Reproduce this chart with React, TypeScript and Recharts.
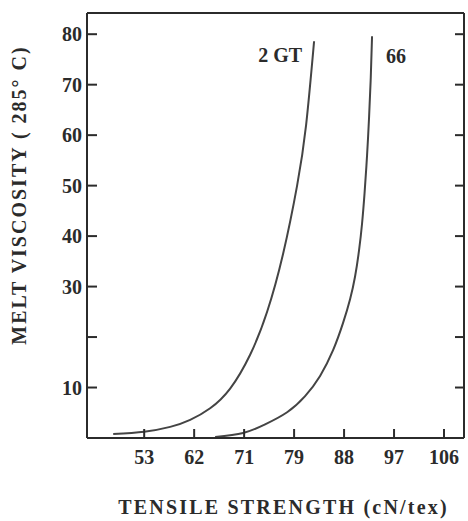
import React from "react"
import { LineChart, Line, XAxis, YAxis, Label, ReferenceLine } from "recharts"

// tensile strength (cN/tex) vs melt viscosity
const gt2X = [47.42, 53.0, 57.68, 61.28, 64.88, 68.48, 72.08, 75.14, 78.02, 80.54, 82.16, 83.6]
const gt2Y = [0.8, 1.25, 2.2, 3.6, 5.9, 9.8, 16.5, 25.0, 36.5, 50.0, 62.0, 78.6]

const n66X = [65.78, 70.82, 74.78, 78.74, 81.98, 84.68, 87.02, 88.82, 90.08, 90.98, 91.7, 92.24, 92.69, 93.14, 93.5, 93.81, 94.04]
const n66Y = [0.2, 1.0, 2.7, 5.1, 8.3, 12.3, 17.4, 22.8, 27.5, 32.0, 37.2, 42.5, 48.5, 56.0, 63.5, 71.5, 79.6]

const xTicks = [53, 62, 71, 80, 89, 98, 107]
const xTickLabels = ["53", "62", "71", "79", "88", "97", "106"]
const yTicks = [10, 20, 30, 40, 50, 60, 70, 80]
const yTickLabels = ["10", "", "30", "40", "50", "60", "70", "80"]

const gt2Data = gt2X.map((x, i) => ({ x, y: gt2Y[i] }))
const n66Data = n66X.map((x, i) => ({ x, y: n66Y[i] }))

const INK = "#2b2b2b"
const FONT = "'Liberation Serif', 'Times New Roman', serif"
const X_DOMAIN: [number, number] = [42.7, 110.6]
const Y_DOMAIN: [number, number] = [0, 84.2]

const W = 468
const H = 521
const MARGIN = { top: 12, right: 3, left: 0, bottom: 0 }
const Y_AXIS_W = 87
const PLOT_W = W - MARGIN.left - MARGIN.right - Y_AXIS_W - 1
// right-side inward tick length (9px) in x units
const RIGHT_TICK_LEN = (9 * (X_DOMAIN[1] - X_DOMAIN[0])) / PLOT_W

const LeftTick = ({ x, y, payload }: any) => {
  const idx = yTicks.indexOf(payload.value)
  return (
    <g>
      <line x1={x} x2={x + 10} y1={y} y2={y} stroke={INK} strokeWidth={2} />
      <text x={x - 5} y={y} textAnchor="end" dominantBaseline="central" fontFamily={FONT} fontWeight="bold" fontSize={20} fill={INK}>
        {yTickLabels[idx]}
      </text>
    </g>
  )
}

const BottomTick = ({ x, y, payload }: any) => {
  const idx = xTicks.indexOf(payload.value)
  return (
    <g>
      <line x1={x} x2={x} y1={y} y2={y - 9} stroke={INK} strokeWidth={2} />
      <text x={x} y={y + 19} textAnchor="middle" dominantBaseline="central" fontFamily={FONT} fontWeight="bold" fontSize={20} fill={INK}>
        {xTickLabels[idx]}
      </text>
    </g>
  )
}

const endLabel = (text: string, last: number, side: "left" | "right") => (p: any) => {
  if (p.index !== last) return null
  const left = side === "left"
  return (
    <text
      x={left ? p.x - 12 : p.x + 14}
      y={left ? p.y + 14 : p.y + 20}
      textAnchor={left ? "end" : "start"}
      dominantBaseline="central"
      fontFamily={FONT}
      fontWeight="bold"
      fontSize={20}
      fill={INK}
    >
      {text}
    </text>
  )
}

export default function App() {
  return (
    <div style={{ position: "absolute", left: 0, top: 0, background: "#fff" }}>
      <LineChart width={W} height={H} margin={MARGIN}>
        <XAxis
          type="number"
          dataKey="x"
          domain={X_DOMAIN}
          ticks={xTicks}
          interval={0}
          height={83}
          tickLine={false}
          tickSize={0}
          tickMargin={0}
          tick={<BottomTick />}
          axisLine={{ stroke: INK, strokeWidth: 2 }}
          allowDataOverflow
        >
          <Label
            content={(props: any) => {
              const vb = props.viewBox
              return (
                <text x={vb.x + vb.width / 2 + 8} y={vb.y + 69} textAnchor="middle" dominantBaseline="central" fontFamily={FONT} fontWeight="bold" fontSize={20} letterSpacing={2.2} fill={INK}>
                  TENSILE STRENGTH (cN/tex)
                </text>
              )
            }}
          />
        </XAxis>
        {/* frame: top and right sides (size 1, a zero-size axis is not drawn) */}
        <XAxis
          xAxisId="top"
          orientation="top"
          type="number"
          dataKey="x"
          domain={X_DOMAIN}
          height={1}
          tick={false}
          tickLine={false}
          axisLine={{ stroke: INK, strokeWidth: 2 }}
          allowDataOverflow
        />
        <YAxis
          type="number"
          domain={Y_DOMAIN}
          ticks={yTicks}
          interval={0}
          width={Y_AXIS_W}
          tickLine={false}
          tickSize={0}
          tickMargin={0}
          tick={<LeftTick />}
          axisLine={{ stroke: INK, strokeWidth: 2 }}
          allowDataOverflow
        >
          <Label
            content={(props: any) => {
              const vb = props.viewBox
              const cx = 19
              const cy = vb.y + 182
              return (
                <text x={cx} y={cy} transform={`rotate(-90 ${cx} ${cy})`} textAnchor="middle" dominantBaseline="central" fontFamily={FONT} fontWeight="bold" fontSize={20} letterSpacing={2} fill={INK}>
                  MELT VISCOSITY ( 285° C)
                </text>
              )
            }}
          />
        </YAxis>
        <YAxis
          yAxisId="right"
          orientation="right"
          type="number"
          domain={Y_DOMAIN}
          width={1}
          tick={false}
          tickLine={false}
          axisLine={{ stroke: INK, strokeWidth: 2 }}
          allowDataOverflow
        />
        {yTicks.map((t) => (
          <ReferenceLine
            key={t}
            segment={[
              { x: X_DOMAIN[1] - RIGHT_TICK_LEN, y: t },
              { x: X_DOMAIN[1], y: t },
            ]}
            stroke={INK}
            strokeWidth={2}
            ifOverflow="visible"
          />
        ))}
        <Line
          data={gt2Data}
          dataKey="y"
          type="natural"
          stroke="#444"
          strokeWidth={2}
          dot={false}
          isAnimationActive={false}
          label={endLabel("2 GT", gt2Data.length - 1, "left")}
        />
        {/* same domains as the bottom/left axes */}
        <Line
          data={n66Data}
          dataKey="y"
          xAxisId="top"
          yAxisId="right"
          type="natural"
          stroke="#444"
          strokeWidth={2}
          dot={false}
          isAnimationActive={false}
          label={endLabel("66", n66Data.length - 1, "right")}
        />
      </LineChart>
    </div>
  )
}
